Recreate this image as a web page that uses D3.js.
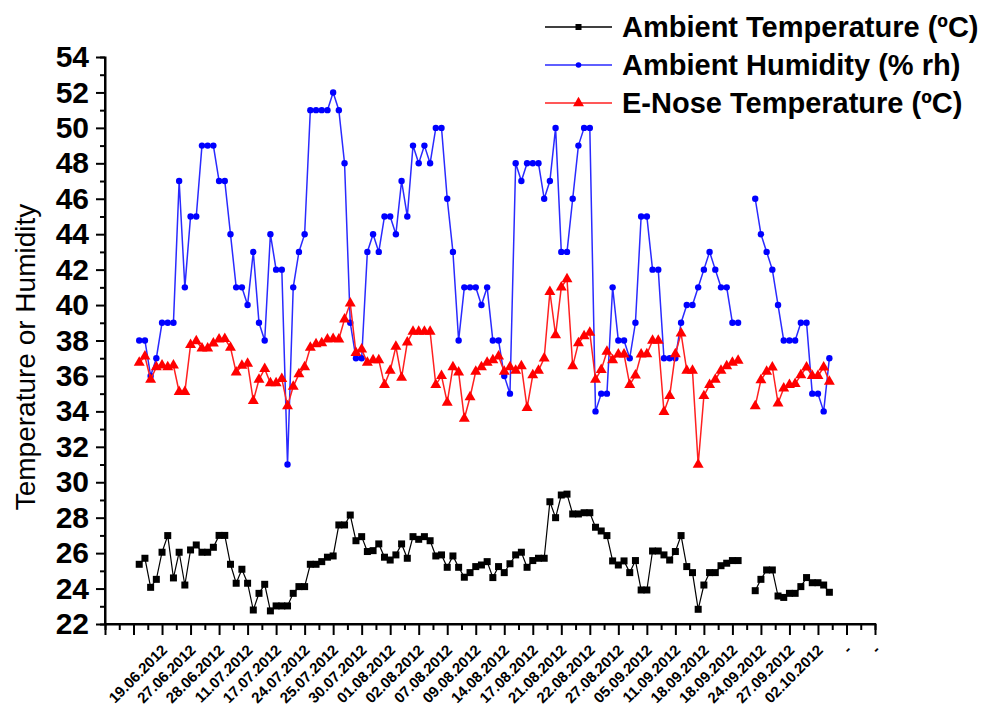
<!DOCTYPE html>
<html><head><meta charset="utf-8">
<script src="https://cdn.jsdelivr.net/npm/d3@7"></script>
<style>body{margin:0;background:#fff}svg{display:block}text{font-family:"Liberation Sans",Arial,sans-serif}</style>
</head><body>
<svg id="c" width="982" height="709"></svg>
<script>
// x positions: point i (0-based) sits at index xStart + i on the category axis
const xStart = 6;
const ambientTemp = [25.37,25.71,24.07,24.52,26.05,26.99,24.6,26.05,24.2,26.18,26.46,26.05,26.05,26.33,27.0,27.0,25.37,24.3,25.09,24.3,22.79,23.73,24.24,22.74,23.02,23.02,23.02,23.73,24.11,24.11,25.37,25.37,25.52,25.77,25.84,27.59,27.59,28.15,26.7,26.93,26.09,26.14,26.52,25.77,25.61,25.9,26.52,25.71,26.93,26.78,26.93,26.7,25.84,25.9,25.2,25.84,25.2,24.64,24.9,25.24,25.33,25.52,24.62,25.24,24.9,25.4,25.9,26.05,25.2,25.58,25.71,25.71,28.9,28.0,29.28,29.33,28.21,28.21,28.28,28.28,27.46,27.25,26.99,25.56,25.33,25.56,24.9,25.58,23.92,23.92,26.12,26.12,25.9,25.61,26.09,26.99,25.24,24.9,22.83,24.2,24.9,24.9,25.29,25.43,25.58,25.58,null,null,23.88,24.52,25.05,25.05,23.58,23.5,23.73,23.73,24.11,24.62,24.33,24.33,24.2,23.79];
const ambientHumidity = [38,38,36,37,39,39,39,47,41,45,45,49,49,49,47,47,44,41,41,40,43,39,38,44,42,42,31,41,43,44,51,51,51,51,52,51,48,39,37,37,43,44,43,45,45,44,47,45,49,48,49,48,50,50,46,43,38,41,41,41,40,41,38,38,36,35,48,47,48,48,48,46,47,50,43,43,46,49,50,50,34,35,35,41,38,38,37,39,45,45,42,42,37,37,37,39,40,40,41,42,43,42,41,41,39,39,null,null,46,44,43,42,40,38,38,38,39,39,35,35,34,37];
const eNoseTemp = [36.75,37.1,35.8,36.5,36.6,36.5,36.6,35.1,35.1,37.75,37.97,37.56,37.56,37.84,38.07,38.1,37.6,36.2,36.58,36.7,34.6,35.8,36.4,35.6,35.6,35.83,34.3,35.4,36.1,36.5,37.6,37.8,37.85,38.07,38.1,38.07,39.2,40.1,37.3,37.5,36.75,36.9,36.9,35.5,36.3,37.65,35.9,37.9,38.5,38.5,38.5,38.5,35.5,36.0,34.5,36.5,36.2,33.6,34.8,36.25,36.5,36.75,36.9,37.1,36.25,36.5,36.3,36.55,34.2,36.05,36.3,37.0,40.75,38.3,41.0,41.47,36.55,37.85,38.25,38.45,35.8,36.35,37.37,36.9,37.22,37.22,35.5,36.03,37.22,37.24,37.99,37.99,33.98,34.87,37.24,38.4,36.3,36.3,31.0,34.87,35.5,35.8,36.3,36.56,36.75,36.87,null,null,34.3,35.77,36.24,36.49,34.46,35.3,35.5,35.55,36.05,36.49,36.0,36.0,36.49,35.68];
const tickLabels = ["19.06.2012","27.06.2012","28.06.2012","11.07.2012","17.07.2012","24.07.2012","25.07.2012","30.07.2012","01.08.2012","02.08.2012","07.08.2012","09.08.2012","14.08.2012","17.08.2012","21.08.2012","22.08.2012","27.08.2012","05.09.2012","11.09.2012","18.09.2012","18.09.2012","24.09.2012","27.09.2012","02.10.2012","-","-"];
const tickStart = 10, tickStep = 5;
const seriesNames = ["Ambient Temperature (ºC)","Ambient Humidity (% rh)","E-Nose Temperature (ºC)"];
const yTitle = "Temperature or Humidity";

const svg = d3.select("#c");
const x = d3.scaleLinear().domain([0,135]).range([105,875]);
const y = d3.scaleLinear().domain([22,54]).range([624,57]);

// Y axis
const gy = svg.append("g").attr("transform","translate(105,0)");
gy.call(d3.axisLeft(y).tickValues(d3.range(22,55,2)).tickSize(9).tickPadding(7).tickFormat(d3.format("d")));
gy.append("g").call(d3.axisLeft(y).tickValues(d3.range(23,54,2)).tickSize(5).tickFormat(""));
// X axis
const gx = svg.append("g").attr("transform","translate(0,624)");
gx.call(d3.axisBottom(x).tickValues(d3.range(0,136,5)).tickSize(11).tickFormat(""));
gx.append("g").call(d3.axisBottom(x).tickValues(d3.range(2.5,135,5)).tickSize(6).tickFormat(""));
gy.select("g").select(".domain").remove();
gx.select("g").select(".domain").remove();
gy.select(".domain").attr("d","M0,57V625");
gx.select(".domain").attr("d","M104,0H876");
svg.selectAll(".domain").attr("stroke","#000").attr("stroke-width",2);
svg.selectAll(".tick line").attr("stroke","#000").attr("stroke-width",2);
gy.selectAll(".tick text").attr("font-size",30).attr("font-weight","bold").attr("fill","#000").attr("font-family","'Liberation Sans',Arial,sans-serif");

// X labels
const labG = svg.append("g");
tickLabels.forEach((t,i)=>{
  const xv = tickStart + i*tickStep;
  labG.append("text")
    .attr("transform",`translate(${x(xv)+6},${651}) rotate(-45)`)
    .attr("text-anchor","end")
    .attr("font-size",15).attr("font-weight","bold").attr("fill","#000")
    .text(t);
});

// Y title
svg.append("text").attr("transform","translate(35,357) rotate(-90)")
  .attr("text-anchor","middle").attr("font-size",28).attr("fill","#000").text(yTitle);

// Series
const line = d3.line().defined(d=>d[1]!=null).x(d=>x(d[0])).y(d=>y(d[1]));
function pts(arr){ return arr.map((v,i)=>[xStart+i, v]); }

const tri = d3.symbol().type(d3.symbolTriangle).size(52);

function drawSeries(arr,color,lw,marker){
  const p = pts(arr);
  svg.append("path").attr("d",line(p)).attr("fill","none").attr("stroke",color).attr("stroke-width",lw);
  const g = svg.append("g");
  const pd = p.filter(d=>d[1]!=null);
  if(marker==="square"){
    g.selectAll("rect").data(pd).join("rect")
      .attr("x",d=>x(d[0])-3.5).attr("y",d=>y(d[1])-3.5).attr("width",7).attr("height",7).attr("fill","#000");
  } else if(marker==="circle"){
    g.selectAll("circle").data(pd).join("circle")
      .attr("cx",d=>x(d[0])).attr("cy",d=>y(d[1])).attr("r",3.2).attr("fill","#0000ff");
  } else {
    g.selectAll("path").data(pd).join("path")
      .attr("d",tri).attr("transform",d=>`translate(${x(d[0])},${y(d[1])})`).attr("fill","#ff0000");
  }
}
drawSeries(ambientTemp,"#000",1.2,"square");
drawSeries(ambientHumidity,"#2a2aff",1.5,"circle");
drawSeries(eNoseTemp,"#ff2020",1.5,"triangle");

// Legend
const leg = svg.append("g");
const legColors = ["#000","#2a2aff","#ff2020"];
const legMarkers = ["square","circle","triangle"];
seriesNames.forEach((n,i)=>{
  const cy = 27 + i*38;
  leg.append("line").attr("x1",545).attr("x2",612).attr("y1",cy).attr("y2",cy).attr("stroke",legColors[i]).attr("stroke-width",1.5);
  if(legMarkers[i]==="square") leg.append("rect").attr("x",575.5).attr("y",cy-3).attr("width",6).attr("height",6).attr("fill","#000");
  else if(legMarkers[i]==="circle") leg.append("circle").attr("cx",578.5).attr("cy",cy).attr("r",2.8).attr("fill","#0000ff");
  else leg.append("path").attr("d",tri).attr("transform",`translate(578.5,${cy})`).attr("fill","#ff0000");
  leg.append("text").attr("x",622).attr("y",cy+10).attr("font-size",29).attr("font-weight","bold").attr("fill","#000").text(n);
});
</script>
</body></html>
